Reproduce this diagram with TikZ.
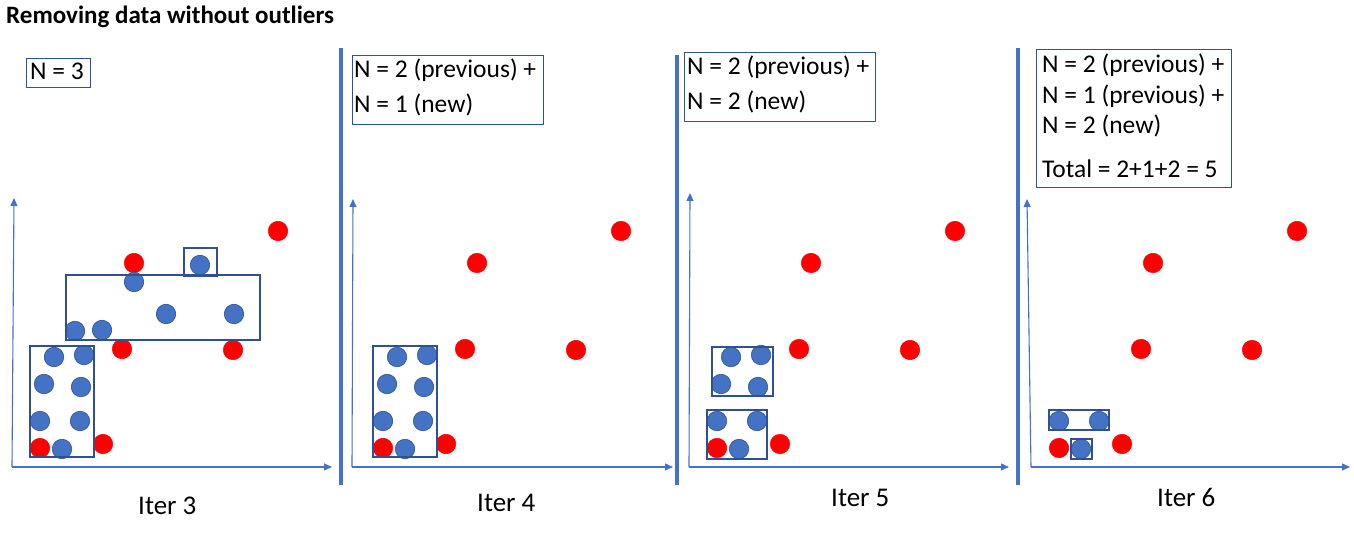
\documentclass[tikz,border=0pt]{standalone}
\usepackage{fontspec}
\setmainfont{Carlito}
\usetikzlibrary{arrows.meta}
\definecolor{obl}{HTML}{4472C4}
\definecolor{odk}{HTML}{2F528F}
\begin{document}
\begin{tikzpicture}[x=1pt,y=-1pt,
  rdot/.style={circle,fill=red,draw=red,line width=0.5pt,minimum size=19.5pt,inner sep=0pt},
  bdot/.style={circle,fill=obl,draw=odk,line width=0.6pt,minimum size=19.5pt,inner sep=0pt},
  cbox/.style={draw=odk,line width=1.1pt},
  tbox/.style={draw=odk,line width=1.1pt,anchor=north west,inner sep=0pt},
  txt/.style={anchor=base west,inner sep=0pt,font=\fontsize{25.5}{30}\selectfont},
  itl/.style={anchor=base west,inner sep=0pt,font=\fontsize{27}{32}\selectfont},
  axis/.style={draw=obl,line width=1.1pt,-{Triangle[width=7pt,length=8pt]}},
  sep/.style={draw=obl,line width=3.5pt}]
\useasboundingbox (0,0) rectangle (1354,534);
\fill[white] (0,0) rectangle (1354,534);

\node[anchor=base west,inner sep=0pt,font=\fontsize{25}{30}\selectfont\bfseries] (title) at (6,23.3) {Removing data without outliers};

% separators
\coordinate (s1t) at (341,48); \coordinate (s1b) at (341,485);
\coordinate (s2t) at (677,55); \coordinate (s2b) at (677,485);
\coordinate (s3t) at (1018,48); \coordinate (s3b) at (1018,485);
\draw[sep] (s1t) -- (s1b);
\draw[sep] (s2t) -- (s2b);
\draw[sep] (s3t) -- (s3b);

% axes
\coordinate (o1) at (12,467); \coordinate (y1) at (14,198); \coordinate (x1) at (332,467);
\coordinate (o2) at (352,467); \coordinate (y2) at (353,199); \coordinate (x2) at (673,467);
\coordinate (o3) at (689,467); \coordinate (y3) at (690,193); \coordinate (x3) at (1009,467);
\coordinate (o4) at (1031,467); \coordinate (y4) at (1027,199); \coordinate (x4) at (1350,467);
\foreach \p in {1,2,3,4}{
  \draw[axis] (o\p) -- (y\p);
  \draw[axis] (o\p) -- (x\p);
}

% red points (same in every panel)
\foreach \p/\s in {1/0,2/343,3/677,4/1019}{
  \begin{scope}[xshift=\s]
    \node[rdot] (r\p-1) at (278,231) {};
    \node[rdot] (r\p-2) at (134,263) {};
    \node[rdot] (r\p-3) at (122,349) {};
    \node[rdot] (r\p-4) at (233,350) {};
    \node[rdot] (r\p-5) at (40,448) {};
    \node[rdot] (r\p-6) at (103,444) {};
  \end{scope}
}

% panel 1 blue points
\node[bdot] (b1-1) at (200,265) {};
\node[bdot] (b1-2) at (134,282) {};
\node[bdot] (b1-3) at (166,314) {};
\node[bdot] (b1-4) at (234,314) {};
\node[bdot] (b1-5) at (75,331) {};
\node[bdot] (b1-6) at (102,330) {};
% lower-left cluster in panels 1-3
\foreach \p/\s in {1/0,2/343,3/677}{
  \begin{scope}[xshift=\s]
    \node[bdot] (c\p-1) at (54,357) {};
    \node[bdot] (c\p-2) at (84,355) {};
    \node[bdot] (c\p-3) at (44,384) {};
    \node[bdot] (c\p-4) at (81,387) {};
    \node[bdot] (c\p-5) at (40,421) {};
    \node[bdot] (c\p-6) at (80,421) {};
    \node[bdot] (c\p-7) at (62,449) {};
  \end{scope}
}
% panel 4 blue points
\node[bdot] (c4-5) at (1059,421) {};
\node[bdot] (c4-6) at (1099,421) {};
\node[bdot] (c4-7) at (1081,449) {};

% cluster boxes
\draw[cbox] (184,248) rectangle (217,276);
\draw[cbox] (66,275) rectangle (260,340);
\draw[cbox] (30,346) rectangle (94,457);
\draw[cbox] (373,346) rectangle (437,457);
\draw[cbox] (712,347) rectangle (773,396);
\draw[cbox] (707,410) rectangle (767,459);
\draw[cbox] (1049,410) rectangle (1109,430);
\draw[cbox] (1071,439) rectangle (1092,459);

% text boxes
\node[tbox,minimum width=64pt,minimum height=29pt] (t1) at (26,58) {};
\node[txt] (t1a) at (30,80) {N = 3};

\node[tbox,minimum width=191pt,minimum height=69pt] (t2) at (352,55) {};
\node[txt] (t2a) at (354,77.3) {N = 2 (previous) +};
\node[txt] (t2b) at (354,112.7) {N = 1 (new)};

\node[tbox,minimum width=191pt,minimum height=69pt] (t3) at (684,52) {};
\node[txt] (t3a) at (687,74.3) {N = 2 (previous) +};
\node[txt] (t3b) at (687,110) {N = 2 (new)};

\node[tbox,minimum width=195pt,minimum height=138pt] (t4) at (1036,49) {};
\node[txt] (t4a) at (1042,73) {N = 2 (previous) +};
\node[txt] (t4b) at (1042,104) {N = 1 (previous) +};
\node[txt] (t4c) at (1042,134) {N = 2 (new)};
\node[txt] (t4d) at (1042,178) {Total = 2+1+2 = 5};

% iteration labels
\node[itl] (i3) at (138,514) {Iter 3};
\node[itl] (i4) at (477,511) {Iter 4};
\node[itl] (i5) at (831,506) {Iter 5};
\node[itl] (i6) at (1157,506) {Iter 6};
\end{tikzpicture}
\end{document}
